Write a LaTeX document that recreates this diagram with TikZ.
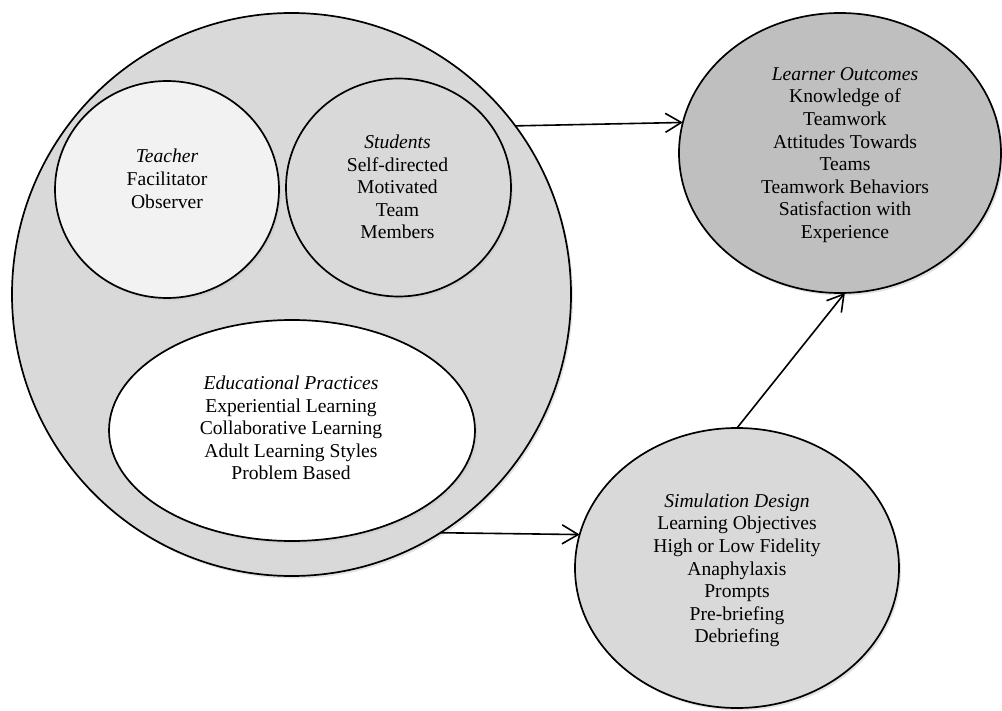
\documentclass[tikz,border=0pt]{standalone}
\usepackage{fontspec}
\setmainfont{Liberation Serif}
\usetikzlibrary{shapes.geometric,arrows.meta,shadows}
\definecolor{gA}{HTML}{D9D9D9}
\definecolor{gB}{HTML}{F2F2F2}
\definecolor{gC}{HTML}{BFBFBF}
\tikzset{
  blob/.style={ellipse, draw=black, line width=1.7bp, inner sep=0pt, outer sep=0pt,
    drop shadow={shadow xshift=2bp, shadow yshift=-2.5bp, fill=black!22}},
  txt/.style={align=center, font=\fontsize{19.6bp}{22.6bp}\selectfont, inner sep=0pt},
  conn/.style={line width=1.6bp, -{Straight Barb[length=16bp,width=19bp,line width=1.6bp]}},
}
\begin{document}
\begin{tikzpicture}[x=1bp,y=-1bp]
\useasboundingbox (0,0) rectangle (1002,711);
% big ellipse and inner shapes
\node[blob, fill=gA, minimum width=559bp, minimum height=563bp] (big) at (291.5,294.5) {};
\node[blob, fill=gB, minimum width=224bp, minimum height=217bp] (teacher) at (167,189.5) {};
\node[blob, fill=gA, minimum width=225bp, minimum height=218bp] (students) at (398.5,187.5) {};
\node[blob, fill=white, minimum width=366bp, minimum height=221bp] (edu) at (292,430.5) {};
% outcome and simulation
\node[blob, fill=gC, minimum width=322bp, minimum height=280bp] (lo) at (840,153) {};
\node[blob, fill=gA, minimum width=324bp, minimum height=280bp] (sim) at (737,568) {};
% texts
\node[txt] (teachertxt) at (167,178.7) {\textit{Teacher}\\Facilitator\\Observer};
\node[txt] (studentstxt) at (397.5,187) {\textit{Students}\\Self-directed\\Motivated\\Team\\Members};
\node[txt] (edutxt) at (291,428) {\textit{Educational Practices}\\Experiential Learning\\Collaborative Learning\\Adult Learning Styles\\Problem Based};
\node[txt] (lotxt) at (845,154.9) {\textit{Learner Outcomes}\\Knowledge of\\Teamwork\\Attitudes Towards\\Teams\\Teamwork Behaviors\\Satisfaction with\\Experience};
\node[txt] (simtxt) at (737,570.5) {\textit{Simulation Design}\\Learning Objectives\\High or Low Fidelity\\Anaphylaxis\\Prompts\\Pre-briefing\\Debriefing};
% connectors
\draw[conn] (big.37.75) -- (lo.169.95);
\draw[conn] (big.-58.9) -- (sim.168.2);
\draw[conn] (sim.north) -- (lo.272);
\end{tikzpicture}
\end{document}
